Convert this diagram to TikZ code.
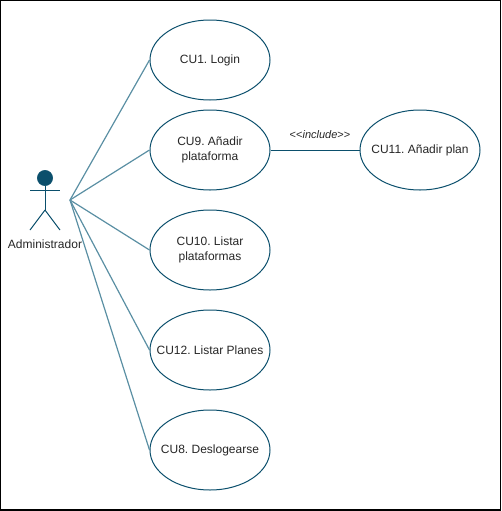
\documentclass[tikz,border=0pt]{standalone}
\usepackage{fontspec}
\setmainfont{Liberation Sans}
\frenchspacing
\usetikzlibrary{positioning}
\usetikzlibrary{shapes.geometric}
\definecolor{actorblue}{HTML}{0B4F6C}
\definecolor{linkteal}{HTML}{5A8FA3}
\begin{document}
\begin{tikzpicture}[x=0.75pt,y=-0.75pt,
                      node distance=75pt,
                      font=\fontsize{9pt}{11pt}\selectfont,
                      text=black!85,
                      case node/.style={ellipse,draw=actorblue,line width=0.75pt,minimum width=90pt,minimum height=60pt,inner xsep=-20pt,inner ysep=0pt,align=center},
                      actor line/.style={draw=actorblue,line width=0.75pt},
                      link/.style={draw=linkteal,line width=0.9pt}]

        \useasboundingbox (0,0) rectangle (502,511);
        \draw[black,line width=1.1pt] (0.7,0.7) rectangle (500.6,510.2);

        % casos de uso
        \node[case node] (cu1) at (210,60) {CU1. Login};
        \node[case node] (cu9) [below of=cu1,node distance=67.5pt] {CU9. Añadir\\plataforma};
        \node[case node] (cu10) [below of=cu9] {CU10. Listar\\plataformas};
        \node[case node] (cu12) [below of=cu10] {CU12. Listar Planes};
        \node[case node] (cu8) [below of=cu12] {CU8. Deslogearse};
        \node[case node] (cu11) at (420,150) {CU11. Añadir plan};

        % actor
        \node[circle,fill=actorblue,draw=actorblue,minimum size=11.5pt,inner sep=0pt] (head) at (45,178) {};
        \coordinate (hip) at (45,210);
        \coordinate (arml) at (30,190);
        \coordinate (armr) at (60,190);
        \coordinate (footl) at (30,230);
        \coordinate (footr) at (60,230);
        \coordinate (hub) at (70,200);
        \node (admin) at (45,244) {Administrador};

        \path[actor line]
        (head) edge (hip)
        (arml) edge (armr)
        (hip) edge (footl)
        (hip) edge (footr)
        ;

        \path[link]
        (hub) edge (cu1.west)
        (hub) edge (cu9.west)
        (hub) edge (cu10.west)
        (hub) edge (cu12.west)
        (hub) edge (cu8.west)
        ;

        \path[actor line]
        (cu9) edge node[above=5pt,xshift=3.75pt,font=\fontsize{8.25pt}{9pt}\selectfont] {<{}<\textit{include}>{}>} (cu11)
        ;
    \end{tikzpicture}
\end{document}
